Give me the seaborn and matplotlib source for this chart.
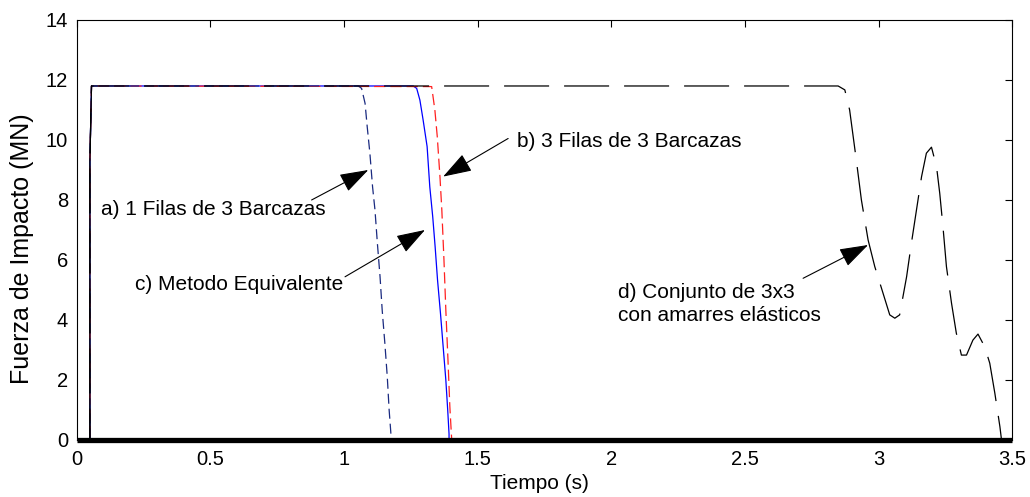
import matplotlib
matplotlib.use("Agg")
import matplotlib.pyplot as plt
import seaborn as sns

# ---------------- data ----------------
# c) Metodo Equivalente (blue solid)
t_c = [0.0, 0.05, 0.05, 0.056, 1.259, 1.272, 1.284, 1.296, 1.311, 1.321, 1.332, 1.341,
       1.350, 1.361, 1.371, 1.381, 1.388, 1.393, 1.393]
f_c = [0.0, 0.0, 9.3, 11.8, 11.8, 11.72, 11.33, 10.67, 9.78, 8.44, 7.44, 6.44,
       5.33, 4.22, 3.11, 2.0, 1.0, 0.2, 0.0]

# b) 3 Filas de 3 Barcazas (red dashed)
t_b = [0.0, 0.05, 0.05, 0.056, 1.328, 1.340, 1.349, 1.359, 1.366, 1.374, 1.381,
       1.389, 1.396, 1.403]
f_b = [0.0, 0.0, 9.3, 11.8, 11.78, 11.0, 10.11, 8.78, 7.67, 6.0, 4.33,
       2.67, 1.11, 0.0]

# a) 1 Filas de 3 Barcazas (navy dashed)
t_a = [0.0, 0.05, 0.05, 0.056, 1.054, 1.066, 1.079, 1.087, 1.097, 1.107, 1.116, 1.125,
       1.135, 1.143, 1.153, 1.162, 1.169, 1.175, 1.177]
f_a = [0.0, 0.0, 9.3, 11.8, 11.8, 11.72, 11.22, 10.44, 9.56, 8.44, 7.67, 6.56,
       5.44, 4.33, 3.22, 2.11, 1.0, 0.28, 0.0]

# d) Conjunto de 3x3 con amarres elasticos (black long dashed)
t_d = [0.0, 0.05, 0.05, 0.056, 2.848, 2.873, 2.891, 2.916, 2.935, 2.960, 2.985, 3.016,
       3.041, 3.060, 3.078, 3.104, 3.122, 3.141, 3.160, 3.178, 3.197, 3.216, 3.228,
       3.240, 3.253, 3.272, 3.290, 3.309, 3.328, 3.352, 3.371, 3.396, 3.415, 3.434,
       3.453, 3.459]
f_d = [0.0, 0.0, 9.3, 11.8, 11.8, 11.67, 11.0, 9.33, 8.0, 6.67, 5.78, 4.89,
       4.17, 4.06, 4.17, 5.44, 6.56, 7.67, 8.78, 9.56, 9.76, 9.11, 8.22,
       7.11, 5.78, 4.56, 3.56, 2.83, 2.83, 3.33, 3.53, 3.11, 2.56, 1.56,
       0.44, 0.0]

# initial rise (common to all)
t_rise = [0.05, 0.05, 0.056]
f_rise = [0.0, 9.3, 11.8]

# zero baseline
t_base = [0.0, 3.5]
f_base = [0.0, 0.0]

x_ticks = [0, 0.5, 1, 1.5, 2, 2.5, 3, 3.5]
x_ticklabels = ["0", "0.5", "1", "1.5", "2", "2.5", "3", "3.5"]
y_ticks = [0, 2, 4, 6, 8, 10, 12, 14]
y_ticklabels = ["0", "2", "4", "6", "8", "10", "12", "14"]

labels = ["a) 1 Filas de 3 Barcazas", "b) 3 Filas de 3 Barcazas",
          "c) Metodo Equivalente", "d) Conjunto de 3x3\ncon amarres elásticos"]
label_pos = [(0.092, 7.67), (1.646, 9.94), (0.219, 5.17), (2.025, 4.53)]
arrow_tail = [(0.879, 8.0), (1.614, 10.05), (1.004, 5.44), (2.717, 5.39)]
arrow_head = [(1.091, 9.0), (1.371, 8.78), (1.303, 7.0), (2.96, 6.5)]

# ---------------- style ----------------
sns.set_theme(style="white")
plt.rcParams["font.family"] = ["Liberation Sans", "DejaVu Sans"]

fig = plt.figure(figsize=(10.3, 4.97), dpi=100)
ax = fig.add_axes([0.0743, 0.1147, 0.9087, 0.8451])

sns.lineplot(x=t_c, y=f_c, sort=False, estimator=None, ax=ax,
             color="#0000ff", lw=0.9, zorder=2)
sns.lineplot(x=t_b, y=f_b, sort=False, estimator=None, ax=ax,
             color="#ff2020", lw=0.9, zorder=3)
ax.lines[-1].set_linestyle((0, (9, 4)))
sns.lineplot(x=t_a, y=f_a, sort=False, estimator=None, ax=ax,
             color="#1a2a80", lw=0.9, zorder=4)
ax.lines[-1].set_linestyle((0, (8, 4)))
sns.lineplot(x=t_d, y=f_d, sort=False, estimator=None, ax=ax,
             color="black", lw=0.9, zorder=5)
ax.lines[-1].set_linestyle((0, (36, 12)))
sns.lineplot(x=t_rise, y=f_rise, sort=False, estimator=None, ax=ax,
             color="black", lw=0.9, zorder=6)
sns.lineplot(x=t_base, y=f_base, sort=False, estimator=None, ax=ax,
             color="black", lw=3.8, zorder=7)
ax.lines[-1].set_clip_on(False)
ax.lines[-1].set_solid_capstyle("butt")

ax.set_xlim(0, 3.5)
ax.set_ylim(0, 14)
ax.set_xticks(x_ticks)
ax.set_xticklabels(x_ticklabels)
ax.set_yticks(y_ticks)
ax.set_yticklabels(y_ticklabels)
ax.tick_params(axis="both", direction="in", length=5, width=0.8, colors="black",
               labelsize=14.5, top=True, right=True)
ax.tick_params(axis="x", pad=7)
ax.tick_params(axis="y", pad=6)
for s in ax.spines.values():
    s.set_visible(True)
    s.set_color("black")
    s.set_linewidth(0.8)
ax.grid(False)

ax.set_xlabel("Tiempo (s)", fontsize=15, color="black")
ax.set_ylabel("Fuerza de Impacto (MN)", fontsize=18, color="black")
ax.xaxis.set_label_coords(0.495, -0.082)
ax.yaxis.set_label_coords(-0.045, 0.455)

for txt, pos, tail, head in zip(labels, label_pos, arrow_tail, arrow_head):
    ax.text(pos[0], pos[1], txt, fontsize=15, ha="left", va="center",
            color="black", linespacing=1.25)
    ax.annotate("", xy=head, xytext=tail,
                arrowprops=dict(arrowstyle="-|>,head_length=1.2,head_width=0.4",
                                color="black", lw=0.8, mutation_scale=15,
                                shrinkA=0, shrinkB=0))

fig.savefig("out.png", dpi=100)
